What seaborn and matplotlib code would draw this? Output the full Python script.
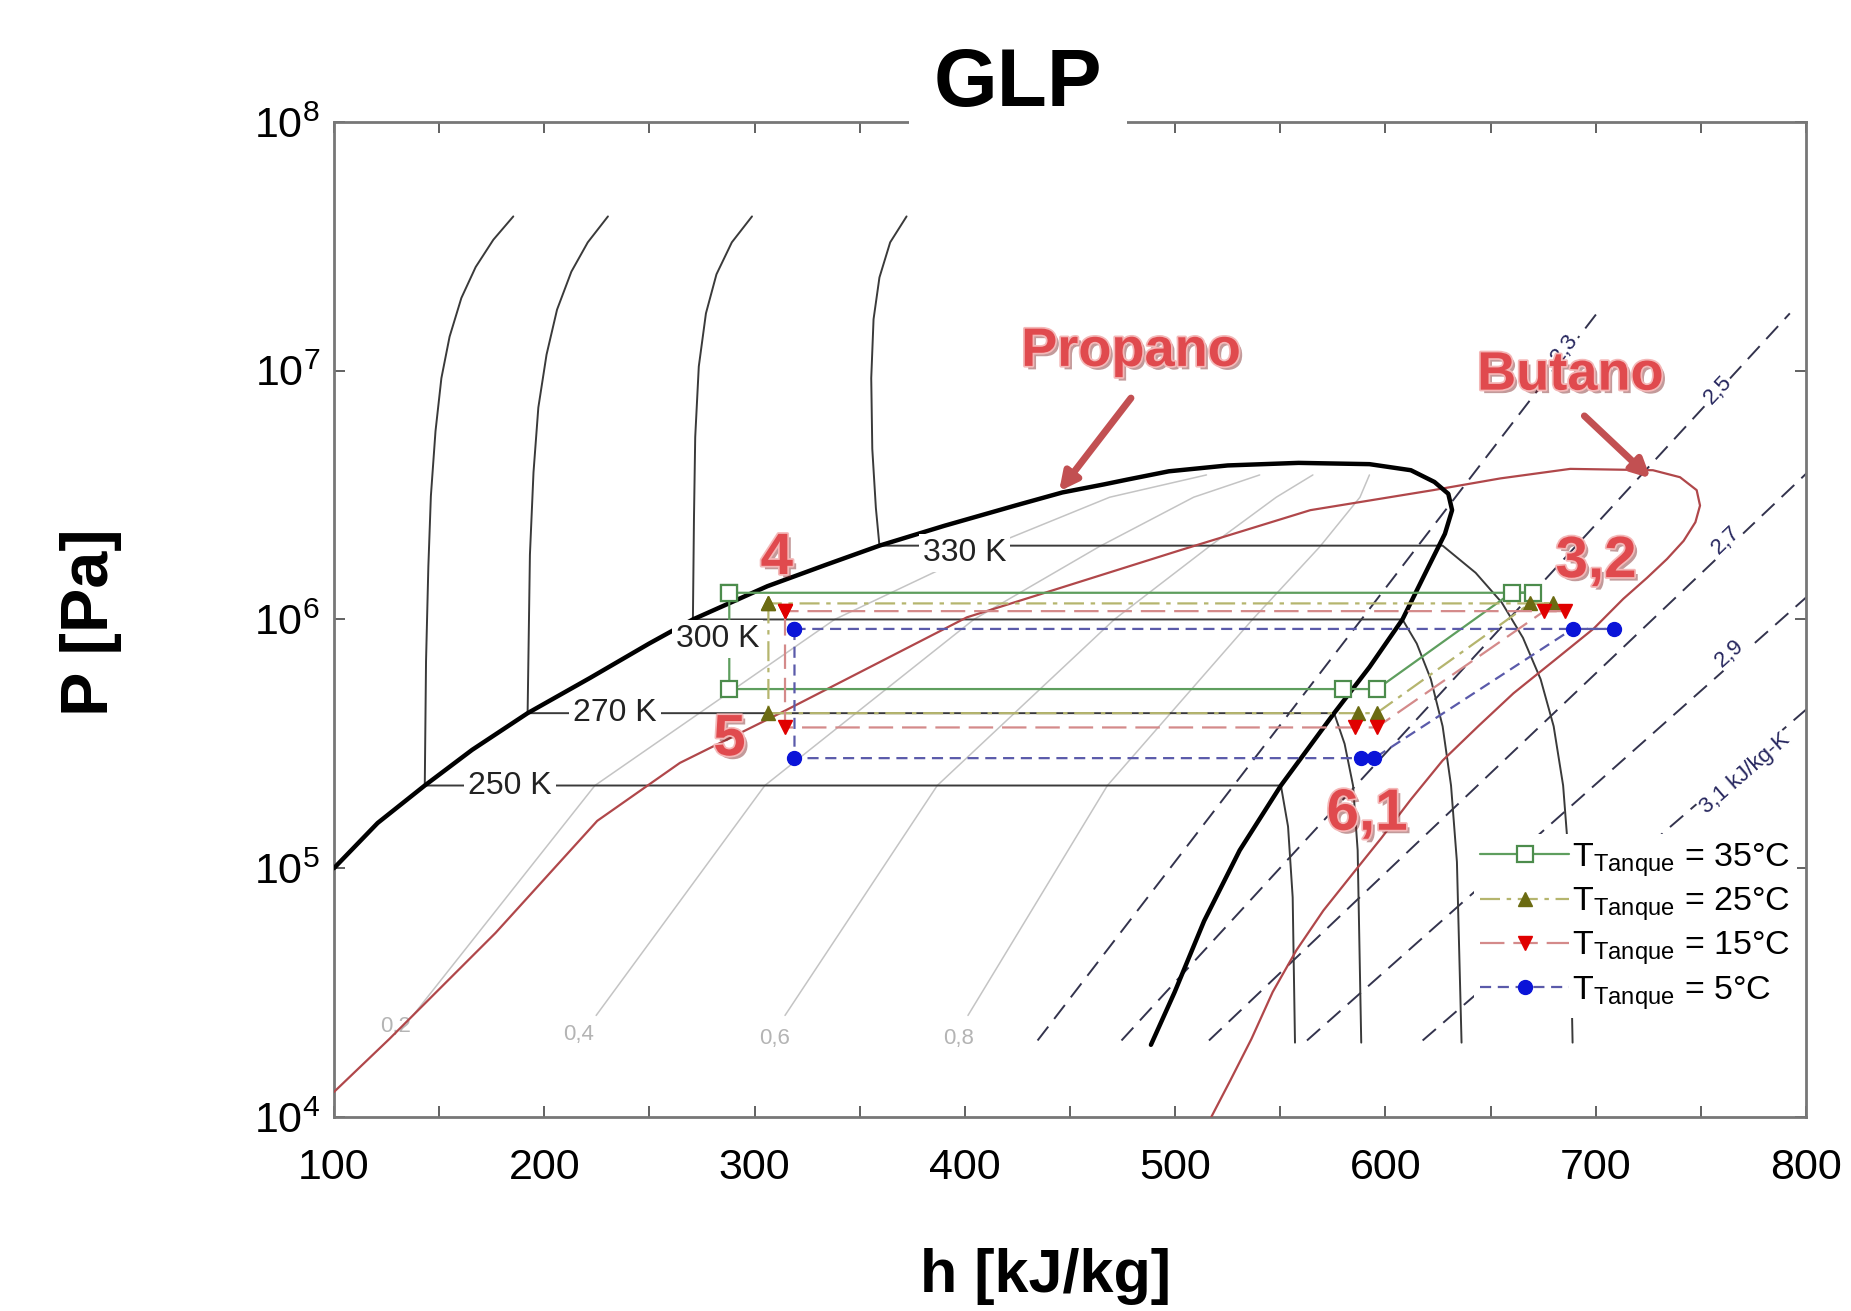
import matplotlib
matplotlib.use("Agg")
import matplotlib.pyplot as plt
import matplotlib.patheffects as pe
from matplotlib.lines import Line2D
from matplotlib.ticker import MultipleLocator, LogLocator, NullLocator, LogFormatterSciNotation
import seaborn as sns

# ---------------- data (h in kJ/kg, P in Pa) ----------------
# propane saturation dome (thick black)
prop_sat_h = [100.0, 120.8, 143.2, 165.7, 192.1, 221.8, 249.9, 270.7, 306.1, 334.1, 359.4, 390.3,
              424.0, 446.4, 466.1, 477.3, 497.0, 525.0, 558.7, 592.4, 612.1, 623.3, 629.9, 631.7,
              628.3, 620.5, 608.1, 592.4, 575.6, 550.3, 530.7, 513.8, 499.8, 488.5]
prop_sat_P = [1.00e5, 1.52e5, 2.15e5, 2.99e5, 4.20e5, 5.82e5, 8.00e5, 1.00e6, 1.36e6, 1.66e6, 1.98e6, 2.38e6,
              2.87e6, 3.24e6, 3.49e6, 3.65e6, 3.94e6, 4.16e6, 4.26e6, 4.21e6, 3.98e6, 3.57e6, 3.20e6, 2.75e6,
              2.21e6, 1.63e6, 1.00e6, 6.43e5, 4.20e5, 2.15e5, 1.18e5, 6.14e4, 3.18e4, 1.95e4]

# butane saturation dome (thin red)
but_sat_h = [100.0, 126.4, 176.9, 225.2, 264.5, 312.2, 401.0, 502.6, 564.3, 622.7, 654.7, 687.9,
             727.2, 740.1, 748.0, 749.6, 747.4, 741.8, 733.9, 724.4, 713.1, 699.1, 681.1, 660.9,
             644.1, 627.2, 612.1, 598.0, 584.0, 570.5, 557.6, 546.4, 536.3, 526.2, 517.2]
but_sat_P = [1.26e4, 2.06e4, 5.50e4, 1.55e5, 2.65e5, 4.20e5, 1.02e6, 1.90e6, 2.75e6, 3.31e6, 3.69e6, 4.03e6,
             3.98e6, 3.73e6, 3.31e6, 2.87e6, 2.46e6, 2.07e6, 1.75e6, 1.47e6, 1.21e6, 9.20e5, 6.93e5, 5.05e5,
             3.72e5, 2.71e5, 1.89e5, 1.32e5, 9.40e4, 6.76e4, 4.67e4, 3.18e4, 2.06e4, 1.40e4, 1.00e4]

# propane isotherms
iso_names = ["250 K", "270 K", "300 K", "330 K"]
iso250_h = [185.3, 175.8, 167.4, 160.6, 155.0, 151.1, 148.3, 146.1, 144.9, 143.8, 143.2,
            550.3, 553.7, 555.9, 557.0]
iso250_P = [4.17e7, 3.36e7, 2.61e7, 1.96e7, 1.37e7, 9.33e6, 5.71e6, 3.13e6, 1.63e6, 6.79e5, 2.15e5,
            2.15e5, 1.47e5, 7.64e4, 1.99e4]
iso270_h = [230.3, 220.7, 212.9, 206.1, 201.1, 197.2, 194.9, 193.2, 192.1,
            575.6, 580.6, 584.6, 586.8, 588.5]
iso270_P = [4.17e7, 3.28e7, 2.50e7, 1.76e7, 1.16e7, 7.11e6, 3.90e6, 1.82e6, 4.20e5,
            4.20e5, 3.16e5, 2.15e5, 1.18e5, 1.99e4]
iso300_h = [298.8, 289.2, 281.9, 276.9, 273.5, 271.8, 271.2, 270.7,
            608.1, 614.9, 621.6, 627.2, 631.2, 634.0, 636.2]
iso300_P = [4.17e7, 3.28e7, 2.44e7, 1.70e7, 1.04e7, 5.41e6, 2.52e6, 1.00e6,
            1.00e6, 8.00e5, 5.75e5, 3.72e5, 2.15e5, 1.06e5, 1.99e4]
iso330_h = [372.3, 364.5, 359.4, 356.6, 355.5, 356.0, 357.7, 359.4,
            627.2, 642.9, 655.3, 665.4, 673.8, 680.0, 684.5, 687.3, 689.0]
iso330_P = [4.17e7, 3.28e7, 2.37e7, 1.61e7, 9.33e6, 4.85e6, 2.81e6, 1.98e6,
            1.98e6, 1.54e6, 1.17e6, 8.44e5, 5.75e5, 3.72e5, 2.15e5, 1.06e5, 1.99e4]
iso_label_h = [183.7, 233.6, 282.5, 399.8]
iso_label_P = [2.15e5, 4.20e5, 8.36e5, 1.85e6]

# vapour quality lines
qual_names = ["0,2", "0,4", "0,6", "0,8"]
qual_P = [2.56e4, 2.15e5, 1.00e6, 1.96e6, 3.10e6, 3.81e6]
qual02_h = [137.6, 224.1, 338.1, 411.1, 468.9, 514.9]
qual04_h = [224.7, 304.9, 404.3, 463.8, 508.8, 540.2]
qual06_h = [314.5, 386.9, 471.1, 516.1, 548.1, 565.5]
qual08_h = [401.5, 467.8, 536.8, 568.8, 587.9, 592.4]
qual_label_h = [129.2, 216.2, 309.4, 397.0]
qual_label_P = [2.30e4, 2.15e4, 2.06e4, 2.06e4]

# isentropes (kJ/kg-K)
ent_names = ["2,3", "2,5", "2,7", "2,9", "3,1 kJ/kg-K"]
ent23_h, ent23_P = [434.6, 701.9], [2.03e4, 1.76e7]
ent25_h, ent25_P = [474.5, 792.3], [2.03e4, 1.70e7]
ent27_h, ent27_P = [516.1, 800.7], [2.03e4, 3.90e6]
ent29_h, ent29_P = [562.7, 800.7], [2.03e4, 1.24e6]
ent31_h, ent31_P = [617.7, 800.7], [2.03e4, 4.39e5]
ent_label_h = [685.1, 758.1, 762.0, 763.7, 771.0]
ent_label_P = [1.23e7, 8.38e6, 2.09e6, 7.33e5, 2.40e5]
ent_label_rot = [52, 47, 44, 42, 41]

# refrigeration cycles: points 4-5-6-1-2-3-4
tank_labels = ["35°C", "25°C", "15°C", "5°C"]
cyc35_h = [288.0, 288.0, 580.0, 596.0, 660.0, 670.0, 288.0]
cyc35_P = [1.28e6, 5.25e5, 5.25e5, 5.25e5, 1.28e6, 1.28e6, 1.28e6]
cyc25_h = [306.6, 306.6, 586.8, 595.8, 668.8, 679.5, 306.6]
cyc25_P = [1.16e6, 4.20e5, 4.20e5, 4.20e5, 1.16e6, 1.16e6, 1.16e6]
cyc15_h = [314.5, 314.5, 585.7, 595.8, 675.5, 685.6, 314.5]
cyc15_P = [1.08e6, 3.68e5, 3.68e5, 3.68e5, 1.08e6, 1.08e6, 1.08e6]
cyc05_h = [319.0, 319.0, 588.5, 594.7, 689.0, 708.7, 319.0]
cyc05_P = [9.16e5, 2.77e5, 2.77e5, 2.77e5, 9.16e5, 9.16e5, 9.16e5]

# state point labels
state_names = ["4", "5", "3,2", "6,1"]
state_h = [310.6, 288.1, 700.2, 591.3]
state_P = [1.75e6, 3.27e5, 1.70e6, 1.64e5]

# ---------------- style ----------------
sns.set_theme(style="ticks")
plt.rcParams["font.family"] = ["Liberation Sans", "DejaVu Sans"]
plt.rcParams["mathtext.fontset"] = "custom"
plt.rcParams["mathtext.rm"] = "Liberation Sans"
plt.rcParams["mathtext.it"] = "Liberation Sans:italic"
plt.rcParams["mathtext.bf"] = "Liberation Sans:bold"
plt.rcParams["text.color"] = "black"
plt.rcParams["xtick.labelcolor"] = "black"
plt.rcParams["ytick.labelcolor"] = "black"

fig = plt.figure(figsize=(18.51, 13.11), dpi=100)
fig.patch.set_facecolor("white")
ax = fig.add_axes([0.1804, 0.148, 0.7953, 0.759])
ax.set_yscale("log")
ax.set_xlim(100, 800)
ax.set_ylim(1e4, 1e8)


def curve(h, P, **kw):
    sns.lineplot(x=h, y=P, sort=False, estimator=None, legend=False, ax=ax, **kw)


# quality lines
for qh in [qual02_h, qual04_h, qual06_h, qual08_h]:
    curve(qh, qual_P, color="#c4c4c4", lw=1.1, zorder=1)
for name, lh, lp in zip(qual_names, qual_label_h, qual_label_P):
    ax.text(lh, lp, name, color="#b4b4b4", fontsize=16, ha="center", va="center", zorder=2)

# isentropes
ent_dash = (0, (9, 5))
for eh, ep in [(ent23_h, ent23_P), (ent25_h, ent25_P), (ent27_h, ent27_P), (ent29_h, ent29_P), (ent31_h, ent31_P)]:
    curve(eh, ep, color="#33334d", lw=1.4, linestyle=ent_dash, zorder=2)
for name, lh, lp, rot in zip(ent_names, ent_label_h, ent_label_P, ent_label_rot):
    ax.text(lh, lp, name, color="#26265e", fontsize=16, ha="center", va="center", rotation=rot,
            rotation_mode="anchor", zorder=3,
            bbox=dict(boxstyle="square,pad=0.05", fc="white", ec="none"))

# isotherms
for ih, ip in [(iso250_h, iso250_P), (iso270_h, iso270_P), (iso300_h, iso300_P), (iso330_h, iso330_P)]:
    curve(ih, ip, color="#3a3a3a", lw=1.4, zorder=3)

# saturation domes
curve(but_sat_h, but_sat_P, color="#b0474a", lw=1.6, zorder=4)
curve(prop_sat_h, prop_sat_P, color="black", lw=3.2, zorder=5)

# cycles
cyc_style = [
    dict(color="#5e9e5e", linestyle="-", marker="s", mfc="white", mec="#4c8c4c", ms=11, mew=1.6),
    dict(color="#b5b56e", linestyle=(0, (9, 3, 2, 3)), marker="^", mfc="#6b6b12", mec="#6b6b12", ms=10, mew=1),
    dict(color="#d48a8a", linestyle=(0, (11, 4)), marker="v", mfc="#e00000", mec="#e00000", ms=10, mew=1),
    dict(color="#5a5aaa", linestyle=(0, (5, 3)), marker="o", mfc="#0a14d8", mec="#0a14d8", ms=10, mew=1),
]
for (ch, cp), st in zip([(cyc35_h, cyc35_P), (cyc25_h, cyc25_P), (cyc15_h, cyc15_P), (cyc05_h, cyc05_P)], cyc_style):
    curve(ch, cp, lw=1.6, zorder=7, **st)

# isotherm labels (break the lines)
for name, lh, lp in zip(iso_names, iso_label_h, iso_label_P):
    ax.text(lh, lp, name, color="#222222", fontsize=23, ha="center", va="center", zorder=8,
            bbox=dict(boxstyle="square,pad=0.12", fc="white", ec="none"))

# red annotations
red = "#e04a4e"
red_fx = [pe.withSimplePatchShadow(offset=(2.5, -2.5), shadow_rgbFace="#7a2020", alpha=0.45),
          pe.withStroke(linewidth=2.5, foreground="#f4b8b8")]
for name, sh, sp in zip(state_names, state_h, state_P):
    t = ax.text(sh, sp, name, color=red, fontsize=42, fontweight="bold", ha="center", va="center", zorder=10)
    t.set_path_effects(red_fx)
for name, th, tp, ah0, ap0, ah1, ap1 in [("Propano", 479.0, 1.19e7, 479.0, 7.76e6, 444.8, 3.27e6),
                                          ("Butano", 687.9, 9.55e6, 694.6, 6.58e6, 726.1, 3.69e6)]:
    t = ax.text(th, tp, name, color=red, fontsize=39, fontweight="bold", ha="center", va="center", zorder=10)
    t.set_path_effects(red_fx)
    ax.annotate("", xy=(ah1, ap1), xytext=(ah0, ap0), zorder=10,
                arrowprops=dict(arrowstyle="-|>,head_length=0.9,head_width=0.45", color="#c25052", lw=5,
                                shrinkA=0, shrinkB=0))

# legend
handles = [Line2D([], [], lw=1.6, label=r"T$_{\rm Tanque}$ = " + lab, **st) for lab, st in zip(tank_labels, cyc_style)]
leg = ax.legend(handles=handles, loc="upper right", bbox_to_anchor=(0.994, 0.284), fontsize=24.5,
                frameon=True, handlelength=2.6, handletextpad=0.1, labelspacing=0.2, borderpad=0.2,
                borderaxespad=0.0, numpoints=1)
leg.get_frame().set_facecolor("white")
leg.get_frame().set_edgecolor("none")
leg.get_frame().set_alpha(1)
leg.set_zorder(9)

# axes styling
ax.xaxis.set_major_locator(MultipleLocator(100))
ax.xaxis.set_minor_locator(MultipleLocator(50))
ax.yaxis.set_major_locator(LogLocator(base=10, numticks=10))
ax.yaxis.set_minor_locator(NullLocator())
ax.yaxis.set_major_formatter(LogFormatterSciNotation())
ax.tick_params(which="both", direction="in", top=True, right=True, length=8, width=1.3, color="#555555")
ax.tick_params(axis="x", labelsize=31, pad=22)
ax.tick_params(axis="y", labelsize=31, pad=10)
for sp in ax.spines.values():
    sp.set_color("#777777")
    sp.set_linewidth(2.0)
ax.set_xlabel("")
ax.set_ylabel("")

fig.text(0.5646, 0.026, "h [kJ/kg]", fontsize=44, fontweight="bold", ha="center", va="center")
fig.text(0.049, 0.5256, "P [Pa]", fontsize=48, fontweight="bold", ha="center", va="center", rotation=90)
fig.text(0.550, 0.935, "GLP", fontsize=59, fontweight="bold", ha="center", va="center",
         bbox=dict(boxstyle="square,pad=0.3", fc="white", ec="none"))

fig.savefig("out.png", dpi=100, facecolor="white")
